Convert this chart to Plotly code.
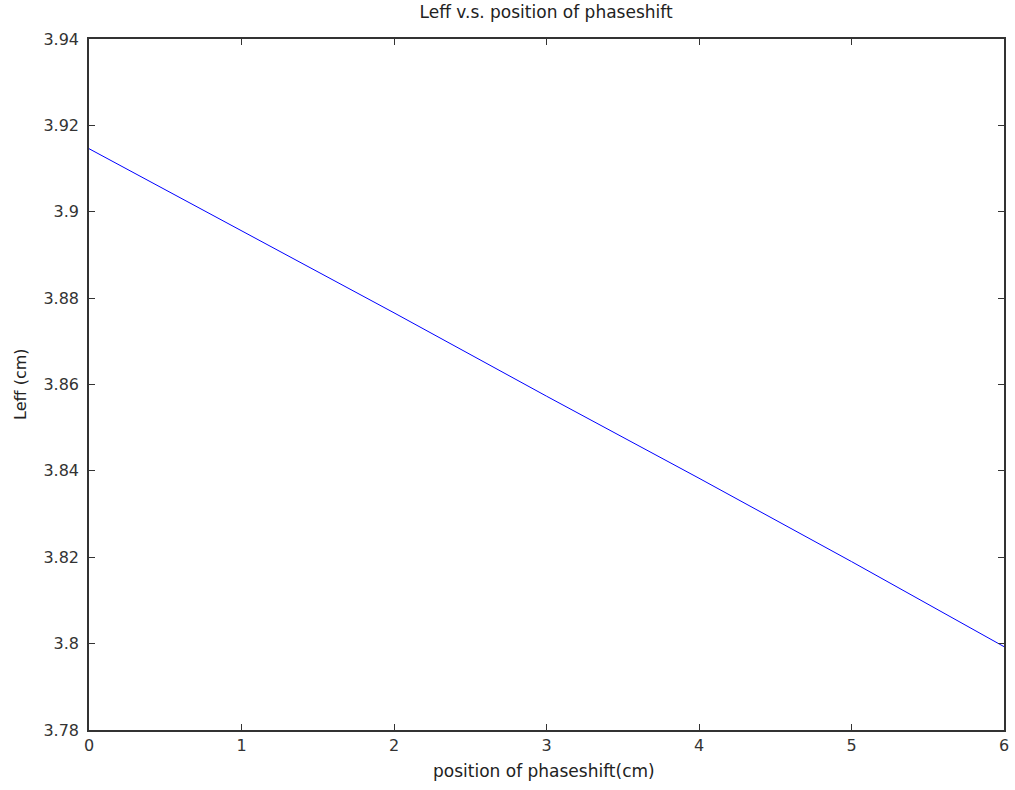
import plotly.graph_objects as go

# Effective length vs. phase-shift position
position_cm = [0.0, 0.2, 1.0, 2.0, 3.0, 4.0, 5.0, 6.0]
leff_cm = [3.9146, 3.9108, 3.8957, 3.8766, 3.8573, 3.8383, 3.8190, 3.7993]

x_ticks = [0, 1, 2, 3, 4, 5, 6]
y_ticks = [3.78, 3.80, 3.82, 3.84, 3.86, 3.88, 3.90, 3.92, 3.94]
y_tick_text = ["3.78", "3.8", "3.82", "3.84", "3.86", "3.88", "3.9", "3.92", "3.94"]

font_family = "DejaVu Sans, Liberation Sans, sans-serif"
text_color = "#222222"

fig = go.Figure()
fig.add_trace(go.Scatter(
    x=position_cm, y=leff_cm, mode="lines",
    line=dict(color="#0000ff", width=1),
    showlegend=False,
))

axis_common = dict(
    showgrid=False, zeroline=False, showline=True, mirror="ticks",
    linecolor="#333333", linewidth=1.5,
    ticks="inside", ticklen=6, tickcolor="#333333", tickwidth=1,
    tickfont=dict(family=font_family, size=16, color="#333333"),
)

fig.update_layout(
    width=1015, height=790,
    margin=dict(l=89, r=6, t=39, b=60),
    paper_bgcolor="white", plot_bgcolor="white",
    title=dict(text="Leff v.s. position of phaseshift", x=0.538, xanchor="center",
               y=0.985, yanchor="middle",
               font=dict(family=font_family, size=17, color=text_color)),
    xaxis=dict(range=[0, 6], tickvals=x_ticks, **axis_common),
    yaxis=dict(range=[3.78, 3.94], tickvals=y_ticks, ticktext=y_tick_text,
               ticklabelstandoff=5, **axis_common),
    annotations=[
        dict(text="position of phaseshift(cm)", xref="paper", yref="paper",
             x=0.497, y=-0.06, xanchor="center", yanchor="middle", showarrow=False,
             font=dict(family=font_family, size=17, color=text_color)),
        dict(text="Leff (cm)", xref="paper", yref="paper",
             x=-0.075, y=0.5, xanchor="center", yanchor="middle", showarrow=False,
             textangle=-90,
             font=dict(family=font_family, size=16, color=text_color)),
    ],
)

fig.write_html("out.html")
